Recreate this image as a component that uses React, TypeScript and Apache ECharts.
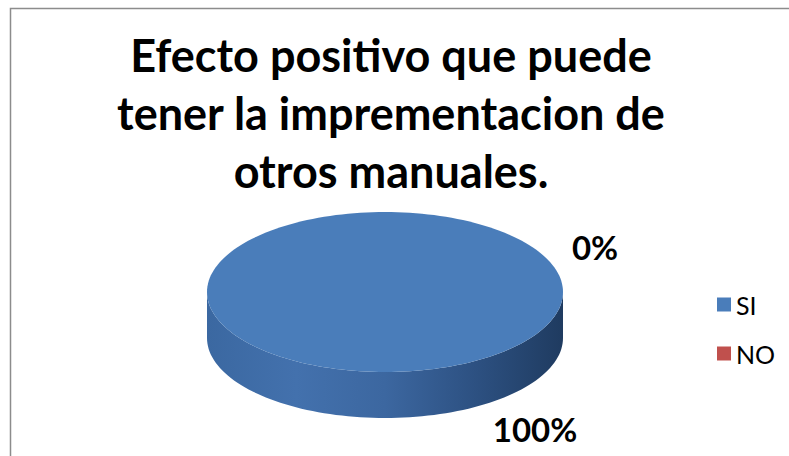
import React, { useEffect, useRef } from "react";
import * as echarts from "echarts";

const titleText = "Efecto positivo que puede\ntener la imprementacion de\notros manuales.";
const categories = ["SI", "NO"];
const values = [100, 0];
const colors = ["#4A7DBA", "#C0504D"];
const sideColors = [
  ["#3b68a1", "#4371ad", "#3c67a0", "#2d5182", "#1f3b60"],
  ["#9b3f3c", "#a64543", "#963c3a", "#7c302e", "#5e2322"],
];

// pie layout (pixels)
const CX = 385;
const CY = 292;
const RX = 178;
const RY = 80;
const DEPTH = 46;
const LABEL_SHIFT = [
  [150, 11],
  [210, 35],
];

const rad = (d: number) => (d * Math.PI) / 180;
const pt = (a: number, dy = 0) => [CX + RX * Math.cos(rad(a)), CY + RY * Math.sin(rad(a)) + dy];
const arc = (a0: number, a1: number, dy = 0) => {
  const pts: number[][] = [];
  const n = Math.max(2, Math.ceil(Math.abs(a1 - a0) / 2));
  for (let i = 0; i <= n; i++) pts.push(pt(a0 + ((a1 - a0) * i) / n, dy));
  return pts;
};

export default function App() {
  const ref = useRef<HTMLDivElement>(null);
  useEffect(() => {
    document.body.style.margin = "0";
    const chart = echarts.init(ref.current!, null, { renderer: "svg" });
    const total = values.reduce((s, v) => s + v, 0);

    const renderItem = (params: any) => {
      const si = params.seriesIndex;
      const before = values.slice(0, si).reduce((s, v) => s + v, 0);
      const frac = values[si] / total;
      const a0 = -90 + (before / total) * 360;
      const a1 = a0 + frac * 360;
      const children: any[] = [];
      if (frac > 0) {
        const f0 = Math.max(a0, 0);
        const f1 = Math.min(a1, 180);
        if (f1 > f0) {
          const top = arc(f0, f1);
          const bottom = arc(f1, f0, DEPTH);
          const sc = sideColors[si];
          children.push({
            type: "polygon",
            shape: { points: top.concat(bottom) },
            style: {
              fill: {
                type: "linear",
                x: 0,
                y: 0,
                x2: 1,
                y2: 0,
                colorStops: sc.map((c, i) => ({ offset: i / (sc.length - 1), color: c })),
              },
            },
          });
        }
        const topPts = frac >= 1 ? arc(a0, a1) : [[CX, CY]].concat(arc(a0, a1));
        children.push({
          type: "polygon",
          shape: { points: topPts },
          style: { fill: colors[si] },
        });
      }
      const mid = (a0 + a1) / 2;
      const s = Math.sin(rad(mid));
      const anchor = pt(mid, s > 0 ? DEPTH : 0);
      children.push({
        type: "text",
        x: anchor[0] + LABEL_SHIFT[si][0],
        y: anchor[1] + LABEL_SHIFT[si][1],
        style: {
          text: Math.round(frac * 100) + "%",
          align: "center",
          verticalAlign: "middle",
          fontFamily: "Lato",
          fontWeight: "bold",
          fontSize: 33,
          fill: "#000",
        },
      });
      return { type: "group", children };
    };

    chart.setOption({
      animation: false,
      backgroundColor: "#fff",
      title: {
        text: titleText,
        left: 391,
        top: 26,
        textAlign: "center",
        padding: 0,
        textStyle: {
          fontFamily: "Lato",
          fontWeight: "bold",
          fontSize: 45,
          lineHeight: 58,
          color: "#000",
        },
      },
      legend: {
        orient: "vertical",
        left: 717,
        top: 292,
        padding: 0,
        itemWidth: 14,
        itemHeight: 14,
        itemGap: 24,
        itemTextGap: 6,
        icon: "rect",
        data: categories,
        textStyle: { fontFamily: "Lato", fontSize: 25, color: "#000" },
      },
      graphic: [
        {
          type: "rect",
          shape: { x: 10.5, y: 8.5, width: 800, height: 500 },
          style: { fill: "none", stroke: "#8c8c8c", lineWidth: 1.5 },
          silent: true,
        },
      ],
      series: categories.map((name, i) => ({
        type: "custom",
        name,
        coordinateSystem: "none",
        itemStyle: { color: colors[i] },
        data: [values[i]],
        renderItem,
      })),
    });
    return () => chart.dispose();
  }, []);
  return <div ref={ref} style={{ width: 789, height: 456 }} />;
}
